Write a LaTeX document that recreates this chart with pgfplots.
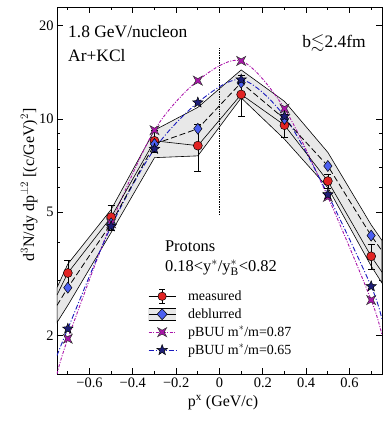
\documentclass[border=0pt]{standalone}
\usepackage{pgfplots}
\pgfplotsset{compat=1.18}
\usepackage{amssymb}
\usepackage{fontspec}
\setmainfont{Liberation Serif}
\definecolor{mred}{RGB}{225,35,35}
\definecolor{mblue}{RGB}{75,95,240}
\definecolor{mmag}{RGB}{170,20,170}
\definecolor{mnavy}{RGB}{25,25,190}
\definecolor{starnavy}{RGB}{30,30,120}
\definecolor{bandgray}{RGB}{232,232,232}
\pgfdeclareplotmark{star4}{%
  \pgfpathmoveto{\pgfqpoint{\pgfplotmarksize}{\pgfplotmarksize}}%
  \pgfpathlineto{\pgfqpoint{0pt}{0.45\pgfplotmarksize}}%
  \pgfpathlineto{\pgfqpoint{-\pgfplotmarksize}{\pgfplotmarksize}}%
  \pgfpathlineto{\pgfqpoint{-0.45\pgfplotmarksize}{0pt}}%
  \pgfpathlineto{\pgfqpoint{-\pgfplotmarksize}{-\pgfplotmarksize}}%
  \pgfpathlineto{\pgfqpoint{0pt}{-0.45\pgfplotmarksize}}%
  \pgfpathlineto{\pgfqpoint{\pgfplotmarksize}{-\pgfplotmarksize}}%
  \pgfpathlineto{\pgfqpoint{0.45\pgfplotmarksize}{0pt}}%
  \pgfpathclose\pgfusepathqfillstroke}
\pgfdeclareplotmark{star5}{%
  \pgfpathmoveto{\pgfqpointpolar{90}{\pgfplotmarksize}}%
  \pgfpathlineto{\pgfqpointpolar{126}{0.42\pgfplotmarksize}}%
  \pgfpathlineto{\pgfqpointpolar{162}{\pgfplotmarksize}}%
  \pgfpathlineto{\pgfqpointpolar{198}{0.42\pgfplotmarksize}}%
  \pgfpathlineto{\pgfqpointpolar{234}{\pgfplotmarksize}}%
  \pgfpathlineto{\pgfqpointpolar{270}{0.42\pgfplotmarksize}}%
  \pgfpathlineto{\pgfqpointpolar{306}{\pgfplotmarksize}}%
  \pgfpathlineto{\pgfqpointpolar{342}{0.42\pgfplotmarksize}}%
  \pgfpathlineto{\pgfqpointpolar{18}{\pgfplotmarksize}}%
  \pgfpathlineto{\pgfqpointpolar{54}{0.42\pgfplotmarksize}}%
  \pgfpathclose\pgfusepathqfillstroke}
\tikzset{magdash/.style={dash pattern=on 3pt off 1.5pt on 1pt off 1.5pt},
         bluedash/.style={dash pattern=on 5pt off 2pt on 1pt off 2pt}}
\begin{document}
\begin{tikzpicture}
\begin{axis}[
  scale only axis, width=325bp, height=367bp,
  ymode=log, xmin=-0.75, xmax=0.75, ymin=1.5, ymax=23,
  xtick={-0.6,-0.4,-0.2,0,0.2,0.4,0.6},
  xticklabels={−0.6,−0.4,−0.2,0,0.2,0.4,0.6},
  minor xtick={-0.7,-0.5,-0.3,-0.1,0.1,0.3,0.5,0.7},
  ytick={2,5,10,20}, yticklabels={2,5,10,20},
  minor ytick={2,3,4,6,7,8,9},
  major tick length=6bp, minor tick length=3.5bp,
  tick style={black, line width=0.7pt},
  axis line style={line width=0.9pt},
  ticklabel style={font=\fontsize{14.5}{17}\selectfont},
  xlabel={p$^{\mathrm{x}}$ (GeV/c)},
  ylabel={d$^3$N/dy dp$^{\perp2}$ [(c/GeV)$^2$]},
  label style={font=\fontsize{16}{19}\selectfont},
  xlabel style={at={(axis description cs:0.511,-0.079)}, anchor=center},
  ylabel style={at={(axis description cs:-0.086,0.515)}, anchor=center},
  legend style={draw=none, fill=none, inner sep=0pt, at={(rel axis cs:0.28,0.234)}, anchor=north west,
    nodes={font=\fontsize{14}{17}\selectfont, inner sep=1pt, text height=11pt, text depth=3pt}, row sep=2bp, column sep=11bp},
  legend cell align=left,
]
% band
\addplot[fill=bandgray, draw=black, line width=0.6pt, forget plot] coordinates {
 (-0.75,2.85) (-0.7,3.4) (-0.5,5.1) (-0.3,9.2) (-0.1,10.9) (0.1,14.4) (0.3,11.4) (0.5,7.8) (0.7,4.55) (0.75,4.05)
 (0.75,2.95) (0.7,3.35) (0.5,6.0) (0.3,8.6) (0.1,11.7) (-0.1,7.6) (-0.3,7.5) (-0.5,4.3) (-0.7,2.5) (-0.75,2.2)} -- cycle;
% dotted
\addplot[black, densely dotted, line width=0.7pt, forget plot] coordinates {(0,4.9) (0,17)};
% pBUU curves
\addplot[mmag, magdash, line width=0.9pt, smooth, forget plot] coordinates {
 (-0.75,1.5) (-0.7,1.95) (-0.5,4.6) (-0.3,9.2) (-0.1,13.3) (0.1,15.4) (0.3,10.8) (0.5,5.6) (0.7,2.6) (0.75,2.0)};
\addplot[mnavy, bluedash, line width=0.9pt, smooth, forget plot] coordinates {
 (-0.75,1.72) (-0.7,2.1) (-0.5,4.5) (-0.3,8.0) (-0.1,11.3) (0.1,13.4) (0.3,10.2) (0.5,5.7) (0.7,2.88) (0.75,2.25)};
% deblurred line
\addplot[black, dash pattern=on 6pt off 3pt, line width=0.8pt, forget plot] coordinates {
 (-0.75,2.5) (-0.7,2.85) (-0.5,4.6) (-0.3,8.3) (-0.1,9.3) (0.1,13.1) (0.3,10.0) (0.5,7.05) (0.7,4.2) (0.75,3.75)};
% measured line
\addplot[black, line width=0.6pt, forget plot] coordinates {
 (-0.75,2.7) (-0.7,3.18) (-0.5,4.82) (-0.3,8.5) (-0.1,8.2) (0.1,12.0) (0.3,9.55) (0.5,6.3) (0.7,3.6) (0.75,3.2)};
% measured points with errors
\addplot[forget plot, only marks, mark=*, mark size=4.5bp, mark options={fill=mred, draw=black, line width=0.5pt},
  error bars/.cd, y dir=both, y explicit, error mark options={rotate=90, mark size=3.5bp, black, line width=0.6pt},
  error bar style={black, line width=0.6pt}] coordinates {
 (-0.7,3.18) +- (0,0.32) (-0.5,4.82) +- (0,0.45) (-0.3,8.5) +- (0,0.7) (-0.1,8.2) +- (0,1.4)
 (0.1,12.0) +- (0,1.8) (0.3,9.55) +- (0,0.8) (0.5,6.3) +- (0,0.35) (0.7,3.6) +- (0,0.33)};
% deblurred points
\addplot[only marks, mark=diamond*, mark size=5.5bp, mark options={fill=mblue, draw=black, line width=0.5pt}, forget plot] coordinates {
 (-0.7,2.85) (-0.5,4.6) (-0.3,8.3) (-0.1,9.3) (0.1,13.1) (0.3,10.0) (0.5,7.05) (0.7,4.2)};
% pBUU markers
\addplot[only marks, mark=star4, mark size=4.5bp, mark options={fill=mmag, draw=black!80, line width=0.5pt}, forget plot] coordinates {
 (-0.7,1.95) (-0.5,4.6) (-0.3,9.2) (-0.1,13.3) (0.1,15.4) (0.3,10.8) (0.5,5.6) (0.7,2.6)};
\addplot[only marks, mark=star5, mark size=5.5bp, mark options={fill=starnavy, draw=black, line width=0.5pt}, forget plot] coordinates {
 (-0.7,2.1) (-0.5,4.5) (-0.3,8.0) (-0.1,11.3) (0.1,13.4) (0.3,10.2) (0.5,5.7) (0.7,2.88)};
% legend
\addlegendimage{legend image code/.code={
  \draw[black, line width=0.6pt] (0bp,0bp)--(27bp,0bp);
  \draw[black, line width=0.6pt] (13.5bp,-7bp)--(13.5bp,7bp) (10.5bp,7bp)--(16.5bp,7bp) (10.5bp,-7bp)--(16.5bp,-7bp);
  \filldraw[fill=mred, draw=black, line width=0.5pt] (13.5bp,0bp) circle (4.2bp);}}
\addlegendentry{measured}
\addlegendimage{legend image code/.code={
  \fill[bandgray] (0bp,-6bp) rectangle (27bp,6bp);
  \draw[black, line width=0.6pt] (0bp,-6bp)--(27bp,-6bp) (0bp,6bp)--(27bp,6bp) (0bp,0bp)--(27bp,0bp);
  \filldraw[fill=mblue, draw=black, line width=0.5pt] (13.5bp,-5.5bp)--(18.5bp,0bp)--(13.5bp,5.5bp)--(8.5bp,0bp)--cycle;}}
\addlegendentry{deblurred}
\addlegendimage{legend image code/.code={
  \draw[mmag, magdash, line width=0.9pt] (0bp,0bp)--(27bp,0bp);
  \filldraw[fill=mmag, draw=black!80, line width=0.5pt] (13.5bp,0bp) ++(4.5bp,4.5bp) -- ++(-4.5bp,-2.5bp) -- ++(-4.5bp,2.5bp) -- ++(2.5bp,-4.5bp) -- ++(-2.5bp,-4.5bp) -- ++(4.5bp,2.5bp) -- ++(4.5bp,-2.5bp) -- ++(-2.5bp,4.5bp) -- cycle;}}
\addlegendentry{pBUU m$^*$/m=0.87}
\addlegendimage{legend image code/.code={
  \draw[mnavy, bluedash, line width=0.9pt] (0bp,0bp)--(27bp,0bp);
  \filldraw[fill=starnavy, draw=black, line width=0.5pt] (13.5bp,0bp) +(90:5.5bp) -- +(126:2.3bp) -- +(162:5.5bp) -- +(198:2.3bp) -- +(234:5.5bp) -- +(270:2.3bp) -- +(306:5.5bp) -- +(342:2.3bp) -- +(18:5.5bp) -- +(54:2.3bp) -- cycle;}}
\addlegendentry{pBUU m$^*$/m=0.65}
% texts
\node[anchor=west, inner sep=0pt, font=\fontsize{17.5}{20}\selectfont] at (rel axis cs:0.034,0.932) {1.8 GeV/nucleon};
\node[anchor=west, inner sep=0pt, font=\fontsize{17.5}{20}\selectfont] at (rel axis cs:0.034,0.869) {Ar+KCl};
\node[anchor=west, inner sep=0pt, font=\fontsize{17.5}{20}\selectfont] at (rel axis cs:0.754,0.902) {b$\lesssim$2.4fm};
\node[anchor=west, inner sep=0pt, font=\fontsize{16.5}{19}\selectfont] at (rel axis cs:0.332,0.349) {Protons};
\node[anchor=west, inner sep=0pt, font=\fontsize{16.5}{19}\selectfont] at (rel axis cs:0.332,0.289) {0.18<y$^*$/y$^*_{\mathrm{B}}$<0.82};
\end{axis}
\pgfresetboundingbox
\path ([shift={(-57bp,-47bp)}]current axis.south west) rectangle ([shift={(1bp,7bp)}]current axis.north east);
\end{tikzpicture}
\end{document}
